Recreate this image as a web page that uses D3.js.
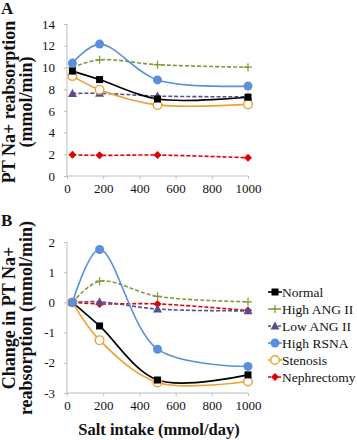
<!DOCTYPE html>
<html lang="en">
  <head>
    <meta charset="utf-8" />
    <title>PT Na+ reabsorption vs salt intake</title>
    <script src="https://cdnjs.cloudflare.com/ajax/libs/d3/7.8.5/d3.min.js"></script>
    <style type="text/css">
      body {
        margin: 0;
        background: #fff;
      }
      text {
        font-family: "Liberation Serif", "Times New Roman", serif;
        fill: #111;
      }
      .axis path,
      .axis line {
        stroke: #bdbdbd;
      }
      .axis text {
        font-family: "Liberation Serif", "Times New Roman", serif;
        font-size: 13px;
      }
      .title {
        font-weight: bold;
        font-size: 18px;
      }
      .xtitle {
        font-weight: bold;
        font-size: 16.5px;
      }
      .panel {
        font-weight: bold;
        font-size: 17px;
      }
      .legend text {
        font-size: 13.5px;
      }
    </style>
  </head>

  <body>
    <div id="chart"></div>

    <script>
      // salt intake (mmol/day)
      const salt = [30, 180, 500, 1000];
      const seriesNames = ["Normal", "High ANG II", "Low ANG II", "High RSNA", "Stenosis", "Nephrectomy"];

      // panel A: PT Na+ reabsorption (mmol/min)
      const normalA = [9.66, 8.88, 7.09, 7.26];
      const highAngA = [10.0, 10.7, 10.25, 10.02];
      const lowAngA = [7.6, 7.62, 7.36, 7.3];
      const highRsnaA = [10.4, 12.15, 8.85, 8.28];
      const stenosisA = [9.2, 7.95, 6.55, 6.6];
      const nephA = [1.95, 1.9, 1.93, 1.68];

      // panel B: change in PT Na+ reabsorption (mmol/min)
      const normalB = [0, -0.78, -2.57, -2.4];
      const highAngB = [0, 0.7, 0.2, 0.02];
      const lowAngB = [0, 0.02, -0.22, -0.28];
      const highRsnaB = [0, 1.75, -1.55, -2.12];
      const stenosisB = [0, -1.25, -2.65, -2.62];
      const nephB = [0, -0.05, -0.05, -0.27];

      const xTicks = [0, 200, 400, 600, 800, 1000];
      const yTicksA = [0, 2, 4, 6, 8, 10, 12, 14];
      const yTicksB = [-3, -2, -1, 0, 1, 2];

      const styles = [
        { color: "#000000", dash: null, marker: "square" },
        { color: "#7e9c3c", dash: "4,2", marker: "plus" },
        { color: "#5e4b8c", dash: "4,2", marker: "triangle" },
        { color: "#5b8fdb", dash: null, marker: "circle" },
        { color: "#f0a030", dash: null, marker: "open" },
        { color: "#e00000", dash: "4,2", marker: "diamond" },
      ];

      const width = 357;
      const height = 440;

      const svg = d3
        .select("#chart")
        .append("svg")
        .attr("width", width)
        .attr("height", height);

      const x = d3.scaleLinear().domain([0, 1000]).range([67, 248]);
      const yA = d3.scaleLinear().domain([0, 14]).range([176, 24]);
      const yB = d3.scaleLinear().domain([-3, 2]).range([393, 242]);

      function drawMarker(g, m, color, cx, cy) {
        if (m === "square") {
          g.append("rect").attr("x", cx - 3.5).attr("y", cy - 3.5)
            .attr("width", 7).attr("height", 7).attr("fill", color);
        } else if (m === "plus") {
          g.append("path").attr("d", `M${cx - 4},${cy}H${cx + 4}M${cx},${cy - 4}V${cy + 4}`)
            .attr("stroke", color).attr("stroke-width", 1.3).attr("fill", "none");
        } else if (m === "triangle") {
          g.append("path").attr("d", `M${cx},${cy - 4.5}L${cx + 4.5},${cy + 3.5}L${cx - 4.5},${cy + 3.5}Z`)
            .attr("fill", color);
        } else if (m === "circle") {
          g.append("circle").attr("cx", cx).attr("cy", cy).attr("r", 4.5).attr("fill", color);
        } else if (m === "open") {
          g.append("circle").attr("cx", cx).attr("cy", cy).attr("r", 4.3)
            .attr("fill", "#fff").attr("stroke", color).attr("stroke-width", 1.4);
        } else if (m === "diamond") {
          g.append("path").attr("d", `M${cx},${cy - 4}L${cx + 4},${cy}L${cx},${cy + 4}L${cx - 4},${cy}Z`)
            .attr("fill", color);
        }
      }

      function panel(y, yTicks, xAxisY, series) {
        const g = svg.append("g");

        g.append("g")
          .attr("class", "axis")
          .attr("transform", `translate(0,${xAxisY})`)
          .call(d3.axisBottom(x).tickValues(xTicks).tickSize(3).tickPadding(5).tickFormat(d3.format("d")))
          .call((s) => s.select(".domain").attr("d", `M${x(0)},0H${x(1000)}`));

        g.append("g")
          .attr("class", "axis")
          .attr("transform", `translate(${x(0)},0)`)
          .call(d3.axisLeft(y).tickValues(yTicks).tickSize(3).tickPadding(9)
            .tickFormat((d) => (d < 0 ? "-" + Math.abs(d) : d)))
          .call((s) => s.select(".domain").attr("d", `M0,${y.range()[0]}V${y.range()[1]}`));

        const line = d3
          .line()
          .curve(d3.curveCatmullRom.alpha(0.5))
          .x((d, i) => x(salt[i]))
          .y((d) => y(d));

        // draw back-to-front like the original
        const order = [5, 2, 1, 4, 0, 3];
        order.forEach((k) => {
          const st = styles[k];
          g.append("path")
            .datum(series[k])
            .attr("fill", "none")
            .attr("stroke", st.color)
            .attr("stroke-width", 1.6)
            .attr("stroke-dasharray", st.dash)
            .attr("d", line);
        });
        order.forEach((k) => {
          const st = styles[k];
          series[k].forEach((v, i) => drawMarker(g, st.marker, st.color, x(salt[i]), y(v)));
        });
        return g;
      }

      panel(yA, yTicksA, yA(0), [normalA, highAngA, lowAngA, highRsnaA, stenosisA, nephA]);
      panel(yB, yTicksB, yB(-3), [normalB, highAngB, lowAngB, highRsnaB, stenosisB, nephB]);

      // panel letters
      svg.append("text").attr("class", "panel").attr("x", 1).attr("y", 14).text("A");
      svg.append("text").attr("class", "panel").attr("x", 1).attr("y", 226).text("B");

      // y titles
      function yTitle(lines, cx, cy) {
        const t = svg.append("text")
          .attr("class", "title")
          .attr("text-anchor", "middle")
          .attr("transform", `translate(${cx},${cy}) rotate(-90)`);
        lines.forEach((l, i) => {
          t.append("tspan").attr("x", 0).attr("dy", i === 0 ? 0 : 17.5).text(l);
        });
      }
      yTitle(["PT Na+ reabsorption", "(mmol/min)"], 14.5, 102);
      yTitle(["Change in PT Na+", "reabsorption (mmol/min)"], 14.5, 318);

      svg.append("text")
        .attr("class", "xtitle")
        .attr("text-anchor", "middle")
        .attr("x", 159)
        .attr("y", 435)
        .text("Salt intake (mmol/day)");

      // legend
      const legend = svg.append("g").attr("class", "legend");
      seriesNames.forEach((name, i) => {
        const st = styles[i];
        const ly = 292 + i * 17;
        legend.append("line")
          .attr("x1", 268).attr("x2", 282).attr("y1", ly).attr("y2", ly)
          .attr("stroke", st.color).attr("stroke-width", 1.6)
          .attr("stroke-dasharray", st.dash ? "3,2" : null);
        drawMarker(legend, st.marker, st.color, 275, ly);
        legend.append("text").attr("x", 282).attr("y", ly + 4.5).text(name);
      });
    </script>
  </body>
</html>
